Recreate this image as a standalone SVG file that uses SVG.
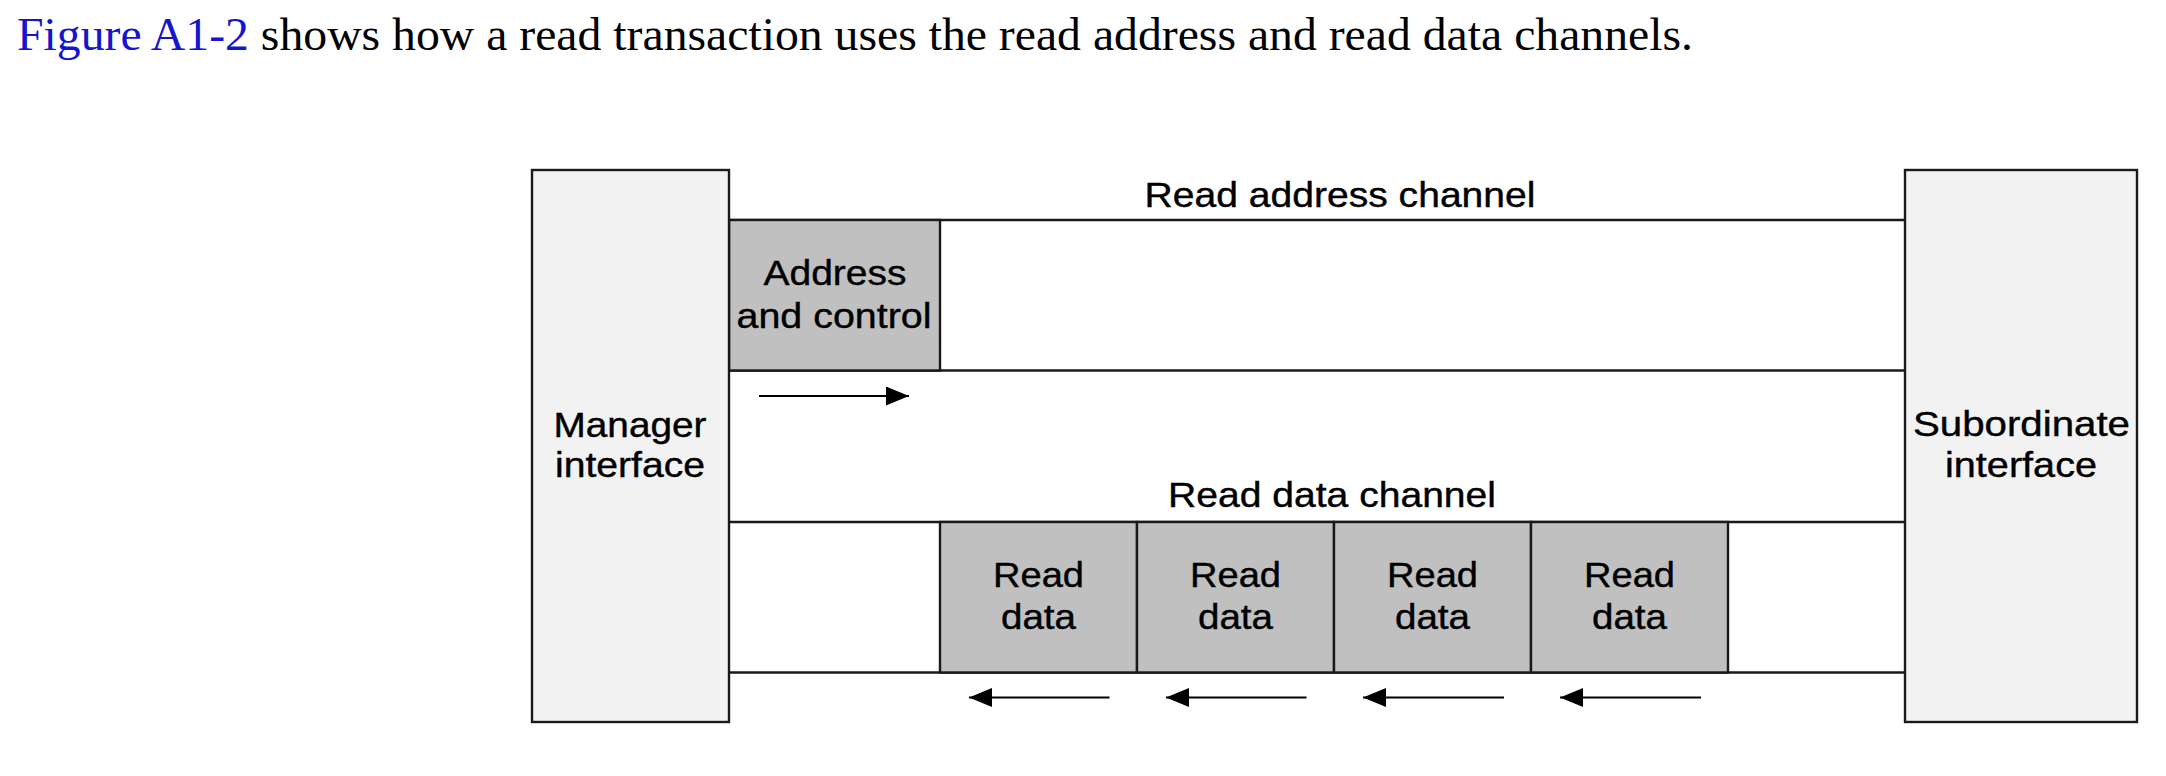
<svg xmlns="http://www.w3.org/2000/svg" width="2166" height="776" viewBox="0 0 2166 776">
<style>
  .bg { fill: #ffffff; }
  .iface { fill: #f2f2f2; stroke: #1a1a1a; stroke-width: 2.4; }
  .pkt { fill: #c0c0c0; stroke: #1a1a1a; stroke-width: 2.4; }
  .ch { stroke: #1a1a1a; stroke-width: 2.4; fill: none; }
  .lbl { font-family: "Liberation Sans", Arial, sans-serif; font-size: 35px; fill: #000; stroke: #000; stroke-width: 0.4; text-anchor: middle; }
  .title { font-family: "Liberation Serif", "Times New Roman", serif; font-size: 46px; fill: #000; }
  .arrow { stroke: #000; stroke-width: 2; fill: none; marker-end: url(#ah); }
</style>
<defs>
  <marker id="ah" markerWidth="24" markerHeight="19" refX="23" refY="9.5" orient="auto" markerUnits="userSpaceOnUse">
    <path d="M0,0 L23,9.5 L0,19 Z" fill="#000"/>
  </marker>
</defs>
<rect class="bg" x="0" y="0" width="2166" height="776"/>

<text id="caption" class="title" x="17" y="50" textLength="1676" lengthAdjust="spacingAndGlyphs"><tspan fill="#1515cc">Figure A1-2</tspan> shows how a read transaction uses the read address and read data channels.</text>

<g id="read-address-channel">
  <line class="ch" x1="729" y1="220" x2="1905" y2="220"/>
  <line class="ch" x1="729" y1="370.5" x2="1905" y2="370.5"/>
  <text class="lbl" x="1340" y="207" textLength="391" lengthAdjust="spacingAndGlyphs">Read address channel</text>
</g>

<g id="read-data-channel">
  <line class="ch" x1="729" y1="522" x2="1905" y2="522"/>
  <line class="ch" x1="729" y1="672.5" x2="1905" y2="672.5"/>
  <text class="lbl" x="1332" y="507" textLength="328" lengthAdjust="spacingAndGlyphs">Read data channel</text>
</g>

<g id="address-control">
  <rect class="pkt" x="729" y="220" width="211" height="150.5"/>
  <text class="lbl" x="835" y="285" textLength="143" lengthAdjust="spacingAndGlyphs">Address</text>
  <text class="lbl" x="834" y="328" textLength="195" lengthAdjust="spacingAndGlyphs">and control</text>
</g>

<g id="read-data-1">
  <rect class="pkt" x="940" y="522" width="197" height="150.5"/>
  <text class="lbl" x="1038.5" y="587" textLength="91" lengthAdjust="spacingAndGlyphs">Read</text>
  <text class="lbl" x="1038.5" y="629" textLength="75" lengthAdjust="spacingAndGlyphs">data</text>
</g>
<g id="read-data-2">
  <rect class="pkt" x="1137" y="522" width="197" height="150.5"/>
  <text class="lbl" x="1235.5" y="587" textLength="91" lengthAdjust="spacingAndGlyphs">Read</text>
  <text class="lbl" x="1235.5" y="629" textLength="75" lengthAdjust="spacingAndGlyphs">data</text>
</g>
<g id="read-data-3">
  <rect class="pkt" x="1334" y="522" width="197" height="150.5"/>
  <text class="lbl" x="1432.5" y="587" textLength="91" lengthAdjust="spacingAndGlyphs">Read</text>
  <text class="lbl" x="1432.5" y="629" textLength="75" lengthAdjust="spacingAndGlyphs">data</text>
</g>
<g id="read-data-4">
  <rect class="pkt" x="1531" y="522" width="197" height="150.5"/>
  <text class="lbl" x="1629.5" y="587" textLength="91" lengthAdjust="spacingAndGlyphs">Read</text>
  <text class="lbl" x="1629.5" y="629" textLength="75" lengthAdjust="spacingAndGlyphs">data</text>
</g>

<g id="manager-interface">
  <rect class="iface" x="532" y="170" width="197" height="552"/>
  <text class="lbl" x="630" y="437" textLength="153" lengthAdjust="spacingAndGlyphs">Manager</text>
  <text class="lbl" x="630" y="477" textLength="150" lengthAdjust="spacingAndGlyphs">interface</text>
</g>

<g id="subordinate-interface">
  <rect class="iface" x="1905" y="170" width="232" height="552"/>
  <text class="lbl" x="2021.5" y="436" textLength="217" lengthAdjust="spacingAndGlyphs">Subordinate</text>
  <text class="lbl" x="2021" y="477" textLength="152" lengthAdjust="spacingAndGlyphs">interface</text>
</g>

<g id="connectors">
  <line class="arrow" x1="759" y1="396" x2="909" y2="396"/>
  <line class="arrow" x1="1109.5" y1="697.5" x2="969" y2="697.5"/>
  <line class="arrow" x1="1306.5" y1="697.5" x2="1166" y2="697.5"/>
  <line class="arrow" x1="1504" y1="697.5" x2="1363" y2="697.5"/>
  <line class="arrow" x1="1701" y1="697.5" x2="1560" y2="697.5"/>
</g>
</svg>
